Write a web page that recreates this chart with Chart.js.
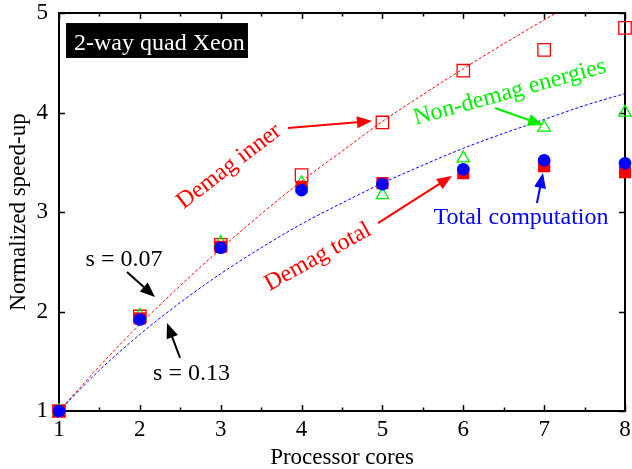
<!DOCTYPE html>
<html><head><meta charset="utf-8">
<script src="https://cdn.jsdelivr.net/npm/chart.js@4.4.1/dist/chart.umd.min.js"></script>
<style>html,body{margin:0;padding:0;background:#fff}#wrap{width:632px;height:469px}</style>
</head><body><div id="wrap"><canvas id="c" width="632" height="469"></canvas></div>
<script>
// ---- data ----
const cores = [1, 2, 3, 4, 5, 6, 7, 8];
const demagInner = [1.00, 1.95, 2.67, 3.37, 3.90, 4.42, 4.63, 4.85];
const nonDemag   = [1.00, 1.96, 2.69, 3.29, 3.17, 3.54, 3.85, 4.00];
const demagTotal = [1.00, 1.93, 2.65, 3.25, 3.29, 3.39, 3.46, 3.40];
const totalComp  = [1.00, 1.92, 2.64, 3.22, 3.28, 3.43, 3.52, 3.49];
// fitted curves (s = 0.07 red, s = 0.13 blue), sampled at half-core steps
const fitX    = [1, 1.5, 2, 2.5, 3, 3.5, 4, 4.5, 5, 5.5, 6, 6.5, 7, 7.5, 8];
const fitS007 = [1.00, 1.45, 1.87, 2.26, 2.63, 2.98, 3.31, 3.61, 3.91, 4.18, 4.44, 4.69, 4.93, 5.16, 5.37];
const fitS013 = [1.00, 1.41, 1.77, 2.09, 2.38, 2.64, 2.88, 3.09, 3.29, 3.47, 3.64, 3.79, 3.93, 4.07, 4.19];
const xTickLabels = ['1', '2', '3', '4', '5', '6', '7', '8'];
const yTickLabels = ['1', '2', '3', '4', '5'];

const FONT = 'Liberation Serif';
Chart.defaults.font.family = FONT;
Chart.defaults.color = '#000';

function pts(xs, ys) { return xs.map((v, i) => ({x: v, y: ys[i]})); }

function arrow(ctx, x1, y1, x2, y2, color) {
  const ang = Math.atan2(y2 - y1, x2 - x1);
  const L = 15, W = 6;
  ctx.strokeStyle = color; ctx.fillStyle = color; ctx.lineWidth = 2;
  ctx.beginPath(); ctx.moveTo(x1, y1);
  ctx.lineTo(x2 - Math.cos(ang) * L * 0.8, y2 - Math.sin(ang) * L * 0.8); ctx.stroke();
  ctx.beginPath();
  ctx.moveTo(x2, y2);
  ctx.lineTo(x2 - Math.cos(ang) * L - Math.sin(ang) * W, y2 - Math.sin(ang) * L + Math.cos(ang) * W);
  ctx.lineTo(x2 - Math.cos(ang) * L + Math.sin(ang) * W, y2 - Math.sin(ang) * L - Math.cos(ang) * W);
  ctx.closePath(); ctx.fill();
}

const frame = {
  id: 'frame',
  beforeDatasetsDraw(chart) {
    const {ctx, chartArea: a, scales: {x, y}} = chart;
    ctx.save();
    ctx.strokeStyle = '#000'; ctx.lineWidth = 1.5;
    ctx.beginPath();
    for (let v = 1; v <= 8.001; v += 0.5) {
      const px = Math.round(x.getPixelForValue(v)) + 0.5;
      const len = Math.abs(v - Math.round(v)) < 1e-6 ? 6 : 3.5;
      ctx.moveTo(px, a.bottom); ctx.lineTo(px, a.bottom - len);
      ctx.moveTo(px, a.top); ctx.lineTo(px, a.top + len);
    }
    for (let v = 1; v <= 5; v += 1) {
      const py = Math.round(y.getPixelForValue(v)) + 0.5;
      ctx.moveTo(a.left, py); ctx.lineTo(a.left + 6, py);
      ctx.moveTo(a.right, py); ctx.lineTo(a.right - 6, py);
    }
    ctx.stroke();
    ctx.lineWidth = 2;
    ctx.strokeRect(a.left, a.top, a.right - a.left, a.bottom - a.top);
    ctx.restore();
  },
  afterDatasetsDraw(chart) {
    const {ctx, scales: {x, y}} = chart;
    const X = v => x.getPixelForValue(v), Y = v => y.getPixelForValue(v);
    ctx.save();
    ctx.font = '24px "' + FONT + '"';
    // title box
    ctx.fillStyle = '#000';
    ctx.fillRect(X(1.087), Y(4.899), X(3.337) - X(1.087), Y(4.548) - Y(4.899));
    ctx.fillStyle = '#fff'; ctx.textAlign = 'left'; ctx.textBaseline = 'alphabetic';
    ctx.fillText('2-way quad Xeon', X(1.186), Y(4.628));

    function rotText(t, cx, cy, deg, color) {
      ctx.save(); ctx.translate(X(cx), Y(cy)); ctx.rotate(-deg * Math.PI / 180);
      ctx.fillStyle = color; ctx.textAlign = 'center'; ctx.textBaseline = 'alphabetic';
      ctx.fillText(t, 0, 0); ctx.restore();
    }
    rotText('Demag inner', 3.152, 3.407, 37.5, '#ff0000');
    rotText('Non-demag energies', 6.596, 4.141, 15.4, '#00ee00');
    rotText('Demag total', 4.240, 2.492, 29, '#ff0000');
    rotText('Total computation', 6.714, 2.879, 0, '#0000ff');
    rotText('s = 0.07', 1.804, 2.457, 0, '#000');
    rotText('s = 0.13', 2.639, 1.312, 0, '#000');

    arrow(ctx, X(3.832), Y(3.844), X(4.871), Y(3.915), '#ff0000');
    arrow(ctx, X(6.392), Y(4.045), X(6.986), Y(3.874), '#00ee00');
    arrow(ctx, X(4.945), Y(2.889), X(5.860), Y(3.362), '#ff0000');
    arrow(ctx, X(6.911), Y(3.090), X(6.986), Y(3.392), '#0000ff');
    arrow(ctx, X(1.841), Y(2.397), X(2.187), Y(2.146), '#000');
    arrow(ctx, X(2.497), Y(1.533), X(2.336), Y(1.884), '#000');
    ctx.restore();
  }
};

new Chart(document.getElementById('c'), {
  type: 'scatter',
  data: {
    datasets: [
      {label: 's = 0.07', type: 'line', data: pts(fitX, fitS007), borderColor: '#ff0000', borderWidth: 1,
       borderDash: [3, 2], pointRadius: 0, tension: 0.4, cubicInterpolationMode: 'monotone', fill: false, order: 6},
      {label: 's = 0.13', type: 'line', data: pts(fitX, fitS013), borderColor: '#0000ff', borderWidth: 1,
       borderDash: [3, 2], pointRadius: 0, tension: 0.4, cubicInterpolationMode: 'monotone', fill: false, order: 5},
      {label: 'Demag inner', data: pts(cores, demagInner), pointStyle: 'rect', pointRadius: 8.8,
       borderColor: '#ff0000', backgroundColor: 'rgba(0,0,0,0)', borderWidth: 1.3, clip: false, order: 4},
      {label: 'Non-demag energies', data: pts(cores, nonDemag), pointStyle: 'triangle', pointRadius: 7.2,
       borderColor: '#00ee00', backgroundColor: 'rgba(0,0,0,0)', borderWidth: 1.3, clip: false, order: 3},
      {label: 'Demag total', data: pts(cores, demagTotal), pointStyle: 'rect', pointRadius: 8.6,
       borderColor: '#ff0000', backgroundColor: '#ff0000', borderWidth: 0, clip: false, order: 2},
      {label: 'Total computation', data: pts(cores, totalComp), pointStyle: 'circle', pointRadius: 6.3,
       borderColor: '#0000ff', backgroundColor: '#0000ff', borderWidth: 0, clip: false, order: 1}
    ]
  },
  options: {
    responsive: false, animation: false, devicePixelRatio: 1,
    layout: {autoPadding: false, padding: {top: 13, right: 7, left: 0, bottom: 0}},
    plugins: {legend: {display: false}, tooltip: {enabled: false}},
    scales: {
      x: {
        type: 'linear', min: 1, max: 8,
        afterFit: s => { s.height = 58; s.paddingLeft = 0; s.paddingRight = 0; },
        afterBuildTicks: s => { s.ticks = xTickLabels.map(t => ({value: Number(t)})); },
        ticks: {padding: 5, font: {size: 23, lineHeight: 1.2}, color: '#000', callback: v => String(v)},
        grid: {display: false, drawTicks: false}, border: {display: false},
        title: {display: true, text: 'Processor cores', font: {size: 23, lineHeight: 1.2}, color: '#000', padding: {top: 0, bottom: -3}}
      },
      y: {
        type: 'linear', min: 1, max: 5,
        afterFit: s => { s.width = 59; s.paddingTop = 0; s.paddingBottom = 0; },
        afterBuildTicks: s => { s.ticks = yTickLabels.map(t => ({value: Number(t)})); },
        ticks: {padding: 11, font: {size: 23, lineHeight: 1.2}, color: '#000', callback: v => String(v)},
        grid: {display: false, drawTicks: false}, border: {display: false},
        title: {display: true, text: 'Normalized speed-up', font: {size: 23, lineHeight: 1.2}, color: '#000', padding: {top: 5, bottom: 0}}
      }
    }
  },
  plugins: [frame]
});
</script>
</body></html>
